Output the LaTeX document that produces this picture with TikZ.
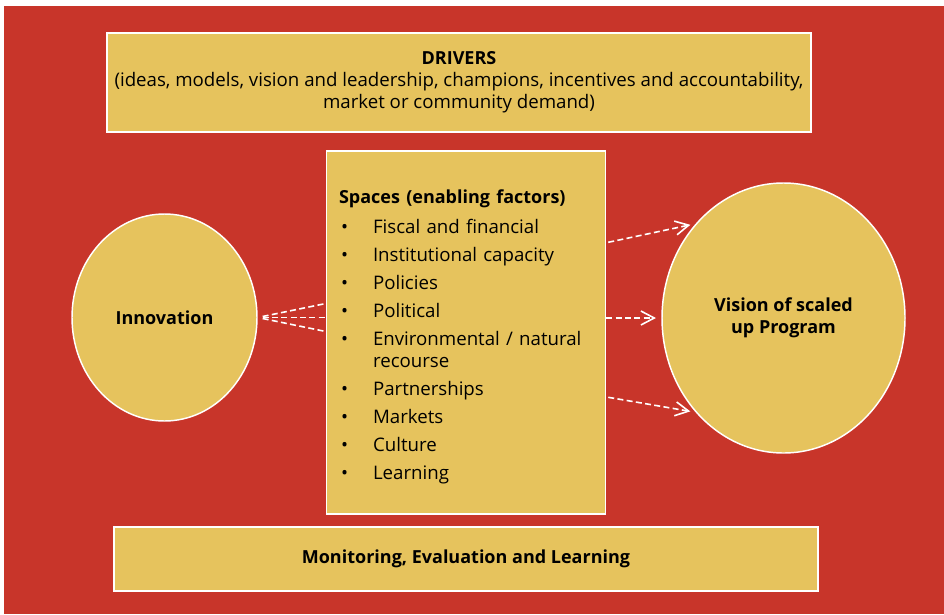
\documentclass[tikz,border=0pt]{standalone}
\usepackage{fontspec}
\setmainfont{Open Sans}
\usepackage{enumitem}
\usetikzlibrary{positioning,arrows.meta,shapes.geometric,calc}

\definecolor{mapred}{HTML}{C8352A}
\definecolor{mapgold}{HTML}{E6C35D}

\newcommand{\headtext}[1]{{\fontsize{13.5}{16.5}\selectfont\bfseries #1}}

\tikzset{
    gold box/.style={draw=white, line width=1.1pt, fill=mapgold, inner sep=0pt},
    gold oval/.style={ellipse, draw=white, line width=1.1pt, fill=mapgold, inner sep=0pt, align=center, font=\fontsize{13.5}{16.5}\selectfont\bfseries},
    flow/.style={draw=white, line width=1.2pt, dash pattern=on 4.5pt off 2.5pt},
    flow arrow/.style={flow, shorten >=4pt, -{Straight Barb[length=10pt,width=10.5pt,line width=1.2pt]}},
}

\begin{document}
\begin{tikzpicture}[x=0.75pt, y=-0.75pt, font=\fontsize{14}{16.5}\selectfont]
    \useasboundingbox (0,0) rectangle (944,614);
    \fill[mapred] (4,6) rectangle (944,614);
    % bars
    \node[gold box, minimum width=528pt, minimum height=74.25pt, align=center] (drivers) at (459,82.5)
        {\headtext{DRIVERS}\\(ideas, models, vision and leadership, champions, incentives and accountability,\\market or community demand)};
    \node[gold box, minimum width=528pt, minimum height=48pt] (mel) at (466,559)
        {\headtext{Monitoring, Evaluation and Learning}};
    % enabling factors
    \node[gold box, minimum width=209.25pt, minimum height=272.25pt] (spaces) at (466,332.3) {};
    \node[inner sep=0pt, text width=190pt, below right=29.25pt and 9.75pt of spaces.north west] (factors)
        {\headtext{Spaces (enabling factors)}
        \begin{itemize}[label=\textbullet, leftmargin=25.5pt, labelwidth=24pt, labelsep=0pt, align=left,
                        itemsep=4.5pt, parsep=0pt, topsep=6.5pt, partopsep=0pt]
            \item Fiscal and financial
            \item Institutional capacity
            \item Policies
            \item Political
            \item Environmental / natural recourse
            \item Partnerships
            \item Markets
            \item Culture
            \item Learning
        \end{itemize}};
    % ovals
    \node[gold oval, minimum width=138.75pt, minimum height=155.25pt] (innovation) at (164.5,317.5) {Innovation};
    \node[gold oval, minimum width=182.25pt, minimum height=202.5pt] (vision) at (783.5,318) {Vision of scaled\\up Program};
    % dashed links
    \draw[flow, shorten <=3.75pt] (innovation.east) -- ($(spaces.west |- innovation.east)+(0,-14)$);
    \draw[flow, shorten <=3.75pt] (innovation.east) -- (spaces.west |- innovation.east);
    \draw[flow, shorten <=3.75pt] (innovation.east) -- ($(spaces.west |- innovation.east)+(0,14)$);
    \draw[flow arrow] ($(spaces.east)+(2,-90)$) -- (vision.133);
    \draw[flow arrow] (spaces.east |- vision.west) -- (vision.west);
    \draw[flow arrow] ($(spaces.east)+(2,65)$) -- (vision.227);
\end{tikzpicture}
\end{document}
